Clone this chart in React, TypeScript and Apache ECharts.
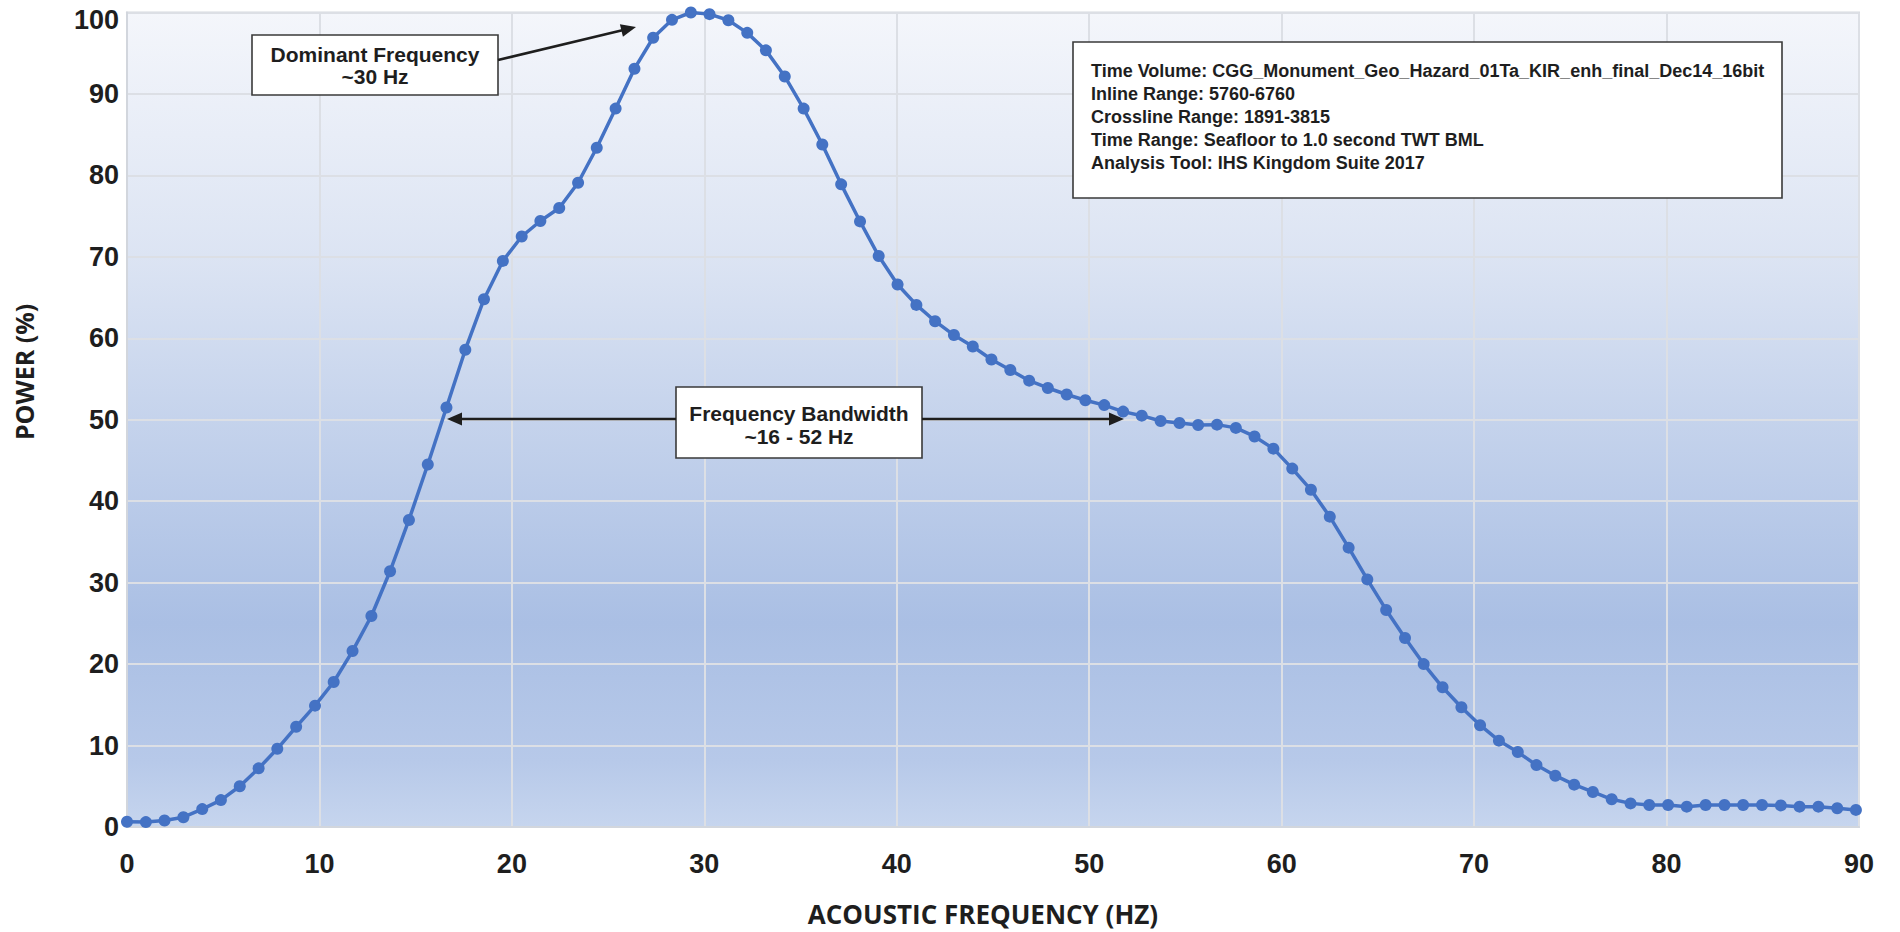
import React, { useEffect, useRef } from "react";
import * as echarts from "echarts";

// Frequency samples (Hz)
const FREQ_HZ = [
  0, 0.98, 1.95, 2.93, 3.91, 4.88, 5.86, 6.84, 7.81, 8.79,
  9.77, 10.74, 11.72, 12.7, 13.67, 14.65, 15.63, 16.6, 17.58, 18.55,
  19.53, 20.51, 21.48, 22.46, 23.44, 24.41, 25.39, 26.37, 27.34, 28.32,
  29.3, 30.27, 31.25, 32.23, 33.2, 34.18, 35.16, 36.13, 37.11, 38.09,
  39.06, 40.04, 41.02, 41.99, 42.97, 43.95, 44.92, 45.9, 46.88, 47.85,
  48.83, 49.8, 50.78, 51.76, 52.73, 53.71, 54.69, 55.66, 56.64, 57.62,
  58.59, 59.57, 60.55, 61.52, 62.5, 63.48, 64.45, 65.43, 66.41, 67.38,
  68.36, 69.34, 70.31, 71.29, 72.27, 73.24, 74.22, 75.2, 76.17, 77.15,
  78.13, 79.1, 80.08, 81.05, 82.03, 83.01, 83.98, 84.96, 85.94, 86.91,
  87.89, 88.87, 89.84,
];

// Power (%) at each frequency sample
const POWER_PCT = [
  0.65, 0.6, 0.8, 1.2, 2.2, 3.3, 5.0, 7.2, 9.6, 12.3,
  14.9, 17.8, 21.6, 25.9, 31.4, 37.7, 44.5, 51.5, 58.6, 64.8,
  69.5, 72.5, 74.4, 76.0, 79.1, 83.4, 88.2, 93.1, 96.9, 99.1,
  100.0, 99.8, 99.05, 97.5, 95.35, 92.15, 88.2, 83.8, 78.9, 74.35,
  70.1, 66.6, 64.1, 62.1, 60.4, 59.0, 57.4, 56.1, 54.8, 53.9,
  53.1, 52.4, 51.8, 51.0, 50.5, 49.85, 49.6, 49.35, 49.4, 49.0,
  47.95, 46.45, 44.0, 41.4, 38.1, 34.3, 30.4, 26.65, 23.2, 20.0,
  17.15, 14.7, 12.5, 10.6, 9.2, 7.6, 6.3, 5.2, 4.3, 3.4,
  2.9, 2.7, 2.7, 2.5, 2.7, 2.7, 2.7, 2.7, 2.65, 2.5,
  2.5, 2.3, 2.1,
];

const X_TITLE = "ACOUSTIC FREQUENCY (HZ)";
const Y_TITLE = "POWER (%)";
const DOMINANT_LINES = ["Dominant Frequency", "~30 Hz"];
const BANDWIDTH_LINES = ["Frequency Bandwidth", "~16 - 52 Hz"];
const INFO_LINES = [
  "Time Volume: CGG_Monument_Geo_Hazard_01Ta_KIR_enh_final_Dec14_16bit",
  "Inline Range: 5760-6760",
  "Crossline Range: 1891-3815",
  "Time Range: Seafloor to 1.0 second TWT BML",
  "Analysis Tool: IHS Kingdom Suite 2017",
];

const INK = "#1e1e1e";
const TICK_FONT = "'Liberation Sans', Arial, sans-serif";
const TITLE_FONT = "'Open Sans', 'Liberation Sans', sans-serif";

function arrow(x1: number, y1: number, x2: number, y2: number) {
  const dx = x2 - x1;
  const dy = y2 - y1;
  const len = Math.sqrt(dx * dx + dy * dy);
  const ux = dx / len;
  const uy = dy / len;
  const headLen = 15;
  const headHalf = 6.5;
  const bx = x2 - ux * headLen;
  const by = y2 - uy * headLen;
  const nx = -uy;
  const ny = ux;
  return [
    {
      type: "line",
      z: 100,
      shape: { x1, y1, x2: bx + ux * 2, y2: by + uy * 2 },
      style: { stroke: INK, lineWidth: 2.6 },
    },
    {
      type: "polygon",
      z: 100,
      shape: {
        points: [
          [x2, y2],
          [bx + nx * headHalf, by + ny * headHalf],
          [bx - nx * headHalf, by - ny * headHalf],
        ],
      },
      style: { fill: INK },
    },
  ];
}

function box(x: number, y: number, w: number, h: number) {
  return {
    type: "rect",
    z: 100,
    shape: { x, y, width: w, height: h },
    style: { fill: "#ffffff", stroke: "#3a3a3a", lineWidth: 1.6 },
  };
}

function centerText(text: string, x: number, y: number) {
  return {
    type: "text",
    z: 101,
    x,
    y,
    style: {
      text,
      fill: INK,
      font: `bold 21px ${TICK_FONT}`,
      align: "center",
      verticalAlign: "middle",
    },
  };
}

export default function App() {
  const ref = useRef<HTMLDivElement>(null);

  useEffect(() => {
    if (!ref.current) return;
    const chart = echarts.init(ref.current, null, { renderer: "svg" });

    const points = FREQ_HZ.map((f, i) => [f, POWER_PCT[i]]);

    const graphics: any[] = [
      // Dominant frequency annotation
      box(252, 35, 246, 60),
      centerText(DOMINANT_LINES[0], 375, 54),
      centerText(DOMINANT_LINES[1], 375, 76),
      ...arrow(498, 60, 636, 27),
      // Bandwidth annotation
      box(676, 387, 246, 71),
      centerText(BANDWIDTH_LINES[0], 799, 413),
      centerText(BANDWIDTH_LINES[1], 799, 436),
      ...arrow(676, 419, 447, 419),
      ...arrow(922, 419, 1124, 419),
      // Info box
      box(1073, 42, 709, 156),
      {
        type: "text",
        z: 101,
        x: 1091,
        y: 59.5,
        style: {
          text: INFO_LINES.join("\n"),
          fill: INK,
          font: `bold 18px ${TICK_FONT}`,
          lineHeight: 23,
          align: "left",
          verticalAlign: "top",
        },
      },
      // Axis titles
      {
        type: "text",
        x: 983,
        y: 914,
        style: {
          text: X_TITLE,
          fill: INK,
          font: `bold 26px ${TITLE_FONT}`,
          align: "center",
          verticalAlign: "middle",
        },
      },
      {
        type: "text",
        x: 24,
        y: 372,
        rotation: Math.PI / 2,
        style: {
          text: Y_TITLE,
          fill: INK,
          font: `bold 25px ${TITLE_FONT}`,
          align: "center",
          verticalAlign: "middle",
        },
      },
    ];

    chart.setOption({
      animation: false,
      backgroundColor: "#ffffff",
      grid: {
        left: 127,
        right: 41,
        top: 12.5,
        bottom: 105,
        show: true,
        borderColor: "#d6d9df",
        borderWidth: 2,
        backgroundColor: new echarts.graphic.LinearGradient(0, 0, 0, 1, [
          { offset: 0, color: "#f4f6fb" },
          { offset: 0.3, color: "#dce4f3" },
          { offset: 0.5, color: "#c5d3ec" },
          { offset: 0.75, color: "#aabfe4" },
          { offset: 0.92, color: "#b7c9e9" },
          { offset: 1, color: "#c6d5ee" },
        ]),
      },
      xAxis: {
        type: "value",
        min: 0,
        max: 90,
        interval: 10,
        axisLine: { show: true, lineStyle: { color: "#d2d6dd", width: 2 } },
        axisTick: { show: false },
        splitLine: { show: true, lineStyle: { color: "#dcdfe5", width: 2 } },
        axisLabel: {
          color: INK,
          fontFamily: TICK_FONT,
          fontWeight: "bold",
          fontSize: 27,
          margin: 23,
        },
      },
      yAxis: {
        type: "value",
        min: 0,
        max: 100,
        interval: 10,
        axisLine: { show: true, lineStyle: { color: "#d2d6dd", width: 2 } },
        axisTick: { show: false },
        splitLine: { show: true, lineStyle: { color: "#dcdfe5", width: 2 } },
        axisLabel: {
          color: INK,
          fontFamily: TICK_FONT,
          fontWeight: "bold",
          fontSize: 27,
          margin: 8,
          formatter: (v: number) => (v === 100 ? "{top|100}" : String(v)),
          rich: {
            top: {
              color: INK,
              fontFamily: TICK_FONT,
              fontWeight: "bold",
              fontSize: 27,
              padding: [14, 0, 0, 0],
            },
          },
        },
      },
      series: [
        {
          type: "line",
          data: points,
          symbol: "circle",
          symbolSize: 12,
          showSymbol: true,
          lineStyle: { color: "#4472c4", width: 3.5 },
          itemStyle: { color: "#4472c4" },
          z: 5,
        },
      ],
      graphic: graphics,
    });

    return () => {
      chart.dispose();
    };
  }, []);

  return (
    <div
      ref={ref}
      style={{
        position: "fixed",
        left: 0,
        top: 0,
        width: 1900,
        height: 932,
        background: "#ffffff",
      }}
    />
  );
}
